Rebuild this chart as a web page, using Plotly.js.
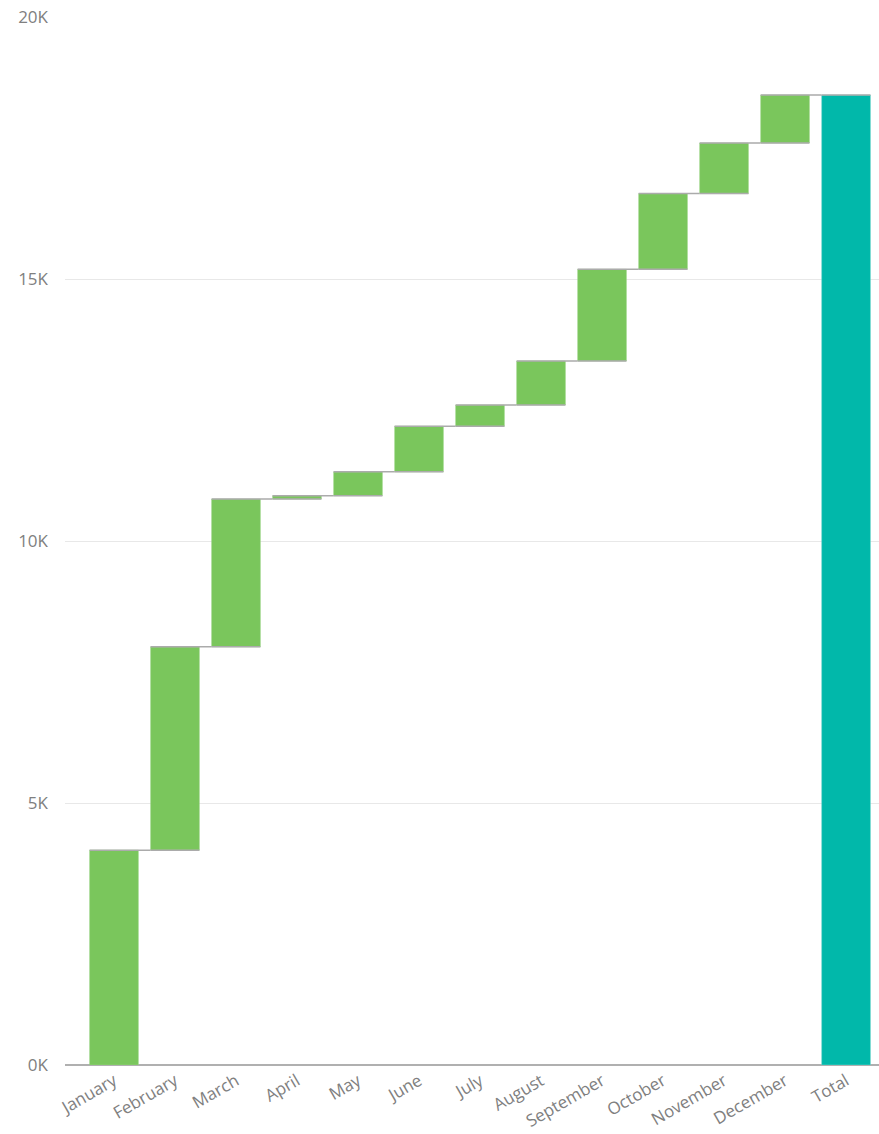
<!DOCTYPE html>
<html>
<head>
<meta charset="utf-8">
<script src="https://cdn.plot.ly/plotly-3.0.1.min.js"></script>
<style>html,body{margin:0;padding:0;background:#fff;}#chart{width:879px;height:1134px;}</style>
</head>
<body>
<div id="chart"></div>
<script>
const categories = ["January","February","March","April","May","June","July","August","September","October","November","December","Total"];
const monthlyChange = [4100, 3880, 2820, 65, 455, 870, 405, 840, 1750, 1445, 965, 915];
const measures = ["relative","relative","relative","relative","relative","relative","relative","relative","relative","relative","relative","relative","total"];
const values = monthlyChange.concat([0]);
const yTickVals = [0, 5000, 10000, 15000, 20000];
const yTickText = ["0K","5K","10K","15K","20K"];

const trace = {
  type: "waterfall",
  x: categories,
  y: values,
  measure: measures,
  increasing: {marker: {color: "#7AC65C", line: {color: "#9ED68A", width: 0.5}}},
  decreasing: {marker: {color: "#FD625E"}},
  totals: {marker: {color: "#01B8AA", line: {color: "#7FD8D0", width: 0.5}}},
  connector: {mode: "spanning", line: {color: "#ABABAB", width: 1.5}},
  hoverinfo: "x+y",
  textinfo: "none"
};

const layout = {
  width: 879, height: 1134,
  margin: {l: 65, r: 0, t: 17, b: 69},
  paper_bgcolor: "#fff", plot_bgcolor: "#fff",
  showlegend: false,
  bargap: 0.21,
  font: {family: "Open Sans, Noto Sans, sans-serif", color: "#777777", size: 15},
  xaxis: {
    type: "category",
    range: [-0.803, 12.54],
    tickangle: -30,
    showgrid: false,
    showline: false,
    zeroline: false,
    ticks: "",
    ticklabelstandoff: 2,
    tickfont: {size: 17, color: "#808080"}
  },
  yaxis: {
    range: [0, 20000],
    tickvals: yTickVals,
    ticktext: yTickText,
    showgrid: true,
    gridcolor: "#E8E8E8",
    gridwidth: 1,
    zeroline: true,
    zerolinecolor: "#B0B0B0",
    zerolinewidth: 1.5,
    ticks: "",
    ticklabelstandoff: 16,
    tickfont: {size: 17, color: "#808080"}
  }
};

Plotly.newPlot("chart", [trace], layout, {displayModeBar: false, staticPlot: true});
</script>
</body>
</html>
